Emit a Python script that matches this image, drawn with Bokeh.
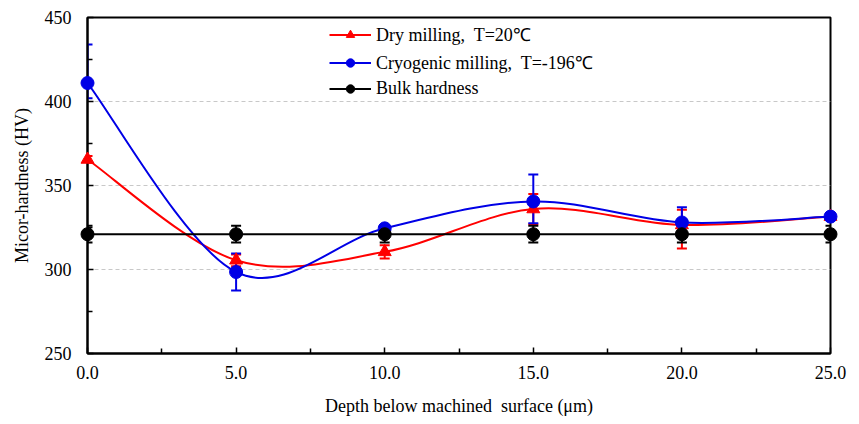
from bokeh.plotting import figure
from bokeh.models import (ColumnDataSource, Whisker, TeeHead, Legend, LegendItem,
                          FixedTicker, Range1d)
from bokeh.embed import file_html
from bokeh.resources import INLINE

# ---------------- data ----------------
depth = [0.0, 5.0, 10.0, 15.0, 20.0, 25.0]
x_ticks = [0.0, 5.0, 10.0, 15.0, 20.0, 25.0]
y_ticks = [250, 300, 350, 400, 450]

dry = [365.5, 305.5, 310.5, 336.0, 326.5, 331.5]
dry_err_up = [2, 3.5, 4, 9, 9, 1]
dry_err_dn = [2, 3.5, 4, 9, 14, 1]

cryo = [411.0, 298.5, 324.5, 340.5, 328.0, 331.5]
cryo_err_up = [23, 11, 2, 16, 9, 1]
cryo_err_dn = [9, 11, 2, 13, 9, 1]

bulk = [321, 321, 321, 321, 321, 321]
bulk_err = [5, 5, 5, 5, 5, 5]

dry_label = "Dry milling,\u00a0 T=20\u2103"
cryo_label = "Cryogenic milling,\u00a0 T=-196\u2103"
bulk_label = "Bulk hardness"
x_title = "Depth below machined\u00a0 surface\u00a0(\u03bcm)"
y_title = "Micor-hardness (HV)"

FONT = "Liberation Serif"
RED = "#FF0000"
BLUE = "#0000E6"


def smooth_segments(xs, ys):
    """Catmull-Rom style Bezier control points (spreadsheet 'smoothed line')."""
    n = len(xs)
    px = [xs[0]] + list(xs) + [xs[-1]]
    py = [ys[0]] + list(ys) + [ys[-1]]
    d = dict(x0=[], y0=[], x1=[], y1=[], cx0=[], cy0=[], cx1=[], cy1=[])
    for i in range(n - 1):
        j = i + 1
        d["x0"].append(px[j]); d["y0"].append(py[j])
        d["x1"].append(px[j + 1]); d["y1"].append(py[j + 1])
        d["cx0"].append(px[j] + (px[j + 1] - px[j - 1]) / 6.0)
        d["cy0"].append(py[j] + (py[j + 1] - py[j - 1]) / 6.0)
        d["cx1"].append(px[j + 1] - (px[j + 2] - px[j]) / 6.0)
        d["cy1"].append(py[j + 1] - (py[j + 2] - py[j]) / 6.0)
    return ColumnDataSource(d)


p = figure(width=859, height=424, output_backend="svg", toolbar_location=None,
           x_range=Range1d(0, 25), y_range=Range1d(250, 450),
           min_border_left=87, min_border_right=29, min_border_top=17,
           min_border_bottom=71)
p.background_fill_color = "white"
p.border_fill_color = "white"
p.outline_line_color = "black"
p.outline_line_width = 2

# axes
p.xaxis.ticker = FixedTicker(ticks=x_ticks, minor_ticks=[2.5, 7.5, 12.5, 17.5, 22.5])
p.xaxis.major_label_overrides = {t: f"{t:.1f}" for t in x_ticks}
p.yaxis.ticker = FixedTicker(ticks=y_ticks, minor_ticks=[275, 325, 375, 425])
for ax in (p.xaxis[0], p.yaxis[0]):
    ax.axis_line_color = "black"
    ax.axis_line_width = 2
    ax.major_tick_in = 6
    ax.major_tick_out = 0
    ax.minor_tick_in = 5
    ax.minor_tick_out = 0
    ax.major_tick_line_color = "black"
    ax.minor_tick_line_color = "black"
    ax.major_tick_line_width = 1.5
    ax.minor_tick_line_width = 1.5
    ax.major_label_text_font = FONT
    ax.major_label_text_font_size = "18px"
    ax.major_label_text_color = "black"
    ax.axis_label_text_font = FONT
    ax.axis_label_text_font_size = "18px"
    ax.axis_label_text_font_style = "normal"
    ax.axis_label_text_color = "black"
p.xaxis.major_label_standoff = 12
p.yaxis.major_label_standoff = 16
p.xaxis.axis_label = x_title
p.yaxis.axis_label = y_title
p.xaxis.axis_label_standoff = 14
p.yaxis.axis_label_standoff = 10

p.xgrid.grid_line_color = None
p.ygrid.ticker = FixedTicker(ticks=[300, 350, 400])
p.ygrid.grid_line_color = "#C8C8C8"
p.ygrid.grid_line_dash = "4 3"
p.ygrid.grid_line_width = 1

# series
src_dry = ColumnDataSource(dict(x=depth, y=dry,
                                up=[v + e for v, e in zip(dry, dry_err_up)],
                                dn=[v - e for v, e in zip(dry, dry_err_dn)]))
src_cryo = ColumnDataSource(dict(x=depth, y=cryo,
                                 up=[v + e for v, e in zip(cryo, cryo_err_up)],
                                 dn=[v - e for v, e in zip(cryo, cryo_err_dn)]))
src_bulk = ColumnDataSource(dict(x=depth, y=bulk,
                                 up=[v + e for v, e in zip(bulk, bulk_err)],
                                 dn=[v - e for v, e in zip(bulk, bulk_err)]))

items = []
for src, ys, color, marker, label in [
        (src_dry, dry, RED, "triangle", dry_label),
        (src_cryo, cryo, BLUE, "circle", cryo_label),
        (src_bulk, bulk, "black", "circle", bulk_label)]:
    if color == "black":
        ln = p.line("x", "y", source=src, line_color=color, line_width=2)
    else:
        ln = p.bezier(x0="x0", y0="y0", x1="x1", y1="y1", cx0="cx0", cy0="cy0",
                      cx1="cx1", cy1="cy1", source=smooth_segments(depth, ys),
                      line_color=color, line_width=2)
    w = Whisker(source=src, base="x", upper="up", lower="dn", dimension="height",
                line_color=color, line_width=2,
                upper_head=TeeHead(size=10, line_color=color, line_width=2),
                lower_head=TeeHead(size=10, line_color=color, line_width=2))
    p.add_layout(w)
    sc = p.scatter("x", "y", source=src, marker=marker, size=13,
                   fill_color=color, line_color=color, level="overlay")
    items.append(LegendItem(label=label, renderers=[ln, sc]))

legend = Legend(items=items, location=(242, 254), padding=0, margin=0,
                spacing=4, glyph_width=42, glyph_height=21, label_height=21,
                label_standoff=5, label_text_font=FONT,
                label_text_font_size="18px", label_text_color="black",
                border_line_alpha=0, background_fill_alpha=0)
p.add_layout(legend)

open("out.html", "w").write(file_html(p, INLINE))
